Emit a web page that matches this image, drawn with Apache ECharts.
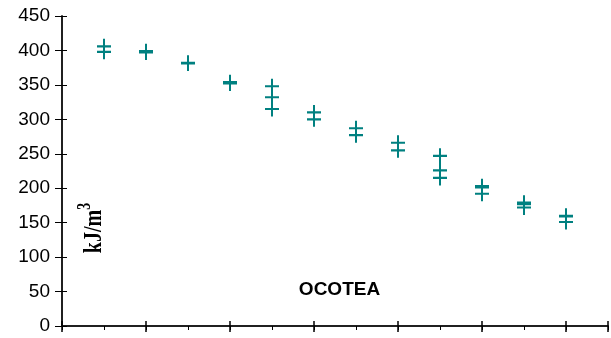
<!DOCTYPE html>
<html>
<head>
<meta charset="utf-8">
<script src="https://cdn.jsdelivr.net/npm/echarts@6/dist/echarts.min.js"></script>
<style>html,body{margin:0;padding:0;background:#fff;}#c{width:611px;height:338px;}</style>
</head>
<body>
<div id="c"></div>
<script>
// x positions of the measurement groups
var positions = [1, 2, 3, 4, 5, 6, 7, 8, 9, 10, 11, 12];
// replicate values (kJ/m3) per position
var rep1 = [406, 399, 382, 354, 348, 310, 287, 266, 247, 203, 179, 160];
var rep2 = [398, 397, 381, 352, 332, 300, 277, 255, 226, 201, 177, 159];
var rep3 = [null, null, null, null, 315, null, null, null, 215, 192, 172, 151];
var yTicks = [0, 50, 100, 150, 200, 250, 300, 350, 400, 450];
var chartTitle = 'OCOTEA';

var teal = '#008080';
var plus = 'path://M6,0h2v6h6v2h-6v6h-2v-6h-6v-2h6z';

function pairs(vals) {
  var out = [];
  for (var i = 0; i < positions.length; i++) {
    if (vals[i] != null) out.push([positions[i], vals[i]]);
  }
  return out;
}
function sc(vals) {
  return {
    type: 'scatter', xAxisIndex: 0, yAxisIndex: 0,
    data: pairs(vals), symbol: plus, symbolSize: [14, 15],
    itemStyle: {color: teal, opacity: 1}, z: 10, silent: true, animation: false
  };
}
var gridRect = {left: 62, right: 3, top: 16, bottom: 12};
var yMin = yTicks[0], yMax = yTicks[yTicks.length - 1], yStep = yTicks[1] - yTicks[0];
var xMin = 0, xMax = positions[positions.length - 1] + 1;

var option = {
  animation: false,
  backgroundColor: '#fff',
  grid: [
    Object.assign({}, gridRect),
    Object.assign({}, gridRect),
    Object.assign({}, gridRect)
  ],
  xAxis: [
    {gridIndex: 0, type: 'value', min: xMin, max: xMax, interval: 1, position: 'bottom',
     axisLine: {lineStyle: {color: '#000', width: 1.5}}, axisTick: {show: true, length: 4, lineStyle: {color: '#000', width: 1}},
     axisLabel: {show: false}, splitLine: {show: false}, z: 5},
    {gridIndex: 0, type: 'value', min: xMin, max: xMax, interval: 1, position: 'top',
     axisLine: {lineStyle: {color: '#808080', width: 2}}, axisTick: {show: false},
     axisLabel: {show: false}, splitLine: {show: false}},
    {gridIndex: 1, type: 'value', min: xMin, max: xMax, interval: 2, position: 'bottom',
     axisLine: {show: false}, axisTick: {show: true, length: 6, lineStyle: {color: '#000', width: 1.5}},
     axisLabel: {show: false}, splitLine: {show: false}},
    {gridIndex: 2, type: 'value', min: xMin, max: xMax, interval: 2, position: 'bottom',
     axisLine: {show: false}, axisTick: {show: true, inside: true, length: 5, lineStyle: {color: '#000', width: 1.5}},
     axisLabel: {show: false}, splitLine: {show: false}}
  ],
  yAxis: [
    {gridIndex: 0, type: 'value', min: yMin, max: yMax, interval: yStep, position: 'left',
     axisLine: {show: true, lineStyle: {color: '#000', width: 1.5}},
     axisTick: {show: true, length: 7, lineStyle: {color: '#000', width: 1}},
     axisLabel: {show: true, margin: 12, color: '#000', fontSize: 19, fontFamily: 'Liberation Sans, Arial, sans-serif'},
     splitLine: {show: false}, z: 5},
    {gridIndex: 0, type: 'value', min: yMin, max: yMax, interval: yStep, position: 'right',
     axisLine: {show: true, lineStyle: {color: '#808080', width: 2}}, axisTick: {show: false},
     axisLabel: {show: false}, splitLine: {show: false}},
    {gridIndex: 1, type: 'value', min: yMin, max: yMax, interval: yStep, position: 'left',
     axisLine: {show: false}, axisTick: {show: true, inside: true, length: 5, lineStyle: {color: '#000', width: 1}},
     axisLabel: {show: false}, splitLine: {show: false}},
    {gridIndex: 2, type: 'value', min: yMin, max: yMax, interval: yStep, position: 'left',
     axisLine: {show: false}, axisTick: {show: false}, axisLabel: {show: false}, splitLine: {show: false}}
  ],
  series: [sc(rep1), sc(rep2), sc(rep3)],
  graphic: [
    {type: 'text', x: 339.5, y: 289.5, z: 20,
     style: {text: chartTitle, fill: '#000', font: 'bold 19px "Liberation Sans", Arial, sans-serif',
             textAlign: 'center', textVerticalAlign: 'middle'}},
    {type: 'text', x: 92, y: 228, rotation: Math.PI / 2, scaleX: 1, scaleY: 1.3, z: 20,
     style: {text: '{m|kJ/m}{s|3}', textAlign: 'center', textVerticalAlign: 'middle',
             rich: {
               m: {fontSize: 20, fontWeight: 'bold', fontFamily: '"Liberation Serif", "Times New Roman", serif', fill: '#000', color: '#000', verticalAlign: 'bottom', lineHeight: 24},
               s: {fontSize: 14, fontWeight: 'bold', fontFamily: '"Liberation Serif", "Times New Roman", serif', fill: '#000', color: '#000', verticalAlign: 'top', lineHeight: 24}
             }}}
  ]
};
var chart = echarts.init(document.getElementById('c'), null, {renderer: 'canvas'});
chart.setOption(option);
</script>
</body>
</html>
